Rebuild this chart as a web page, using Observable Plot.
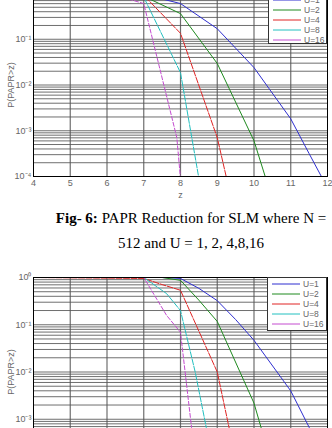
<!DOCTYPE html>
<html><head><meta charset="utf-8">
<script src="https://cdn.jsdelivr.net/npm/d3@7"></script>
<script src="https://cdn.jsdelivr.net/npm/@observablehq/plot@0.6"></script>
<style>
html,body{margin:0;padding:0;background:#fff;}
#page{position:relative;width:332px;height:428px;overflow:hidden;background:#fff;}
.chart{position:absolute;left:0;}
.legend{position:absolute;background:#fff;border:1px solid #333;box-sizing:border-box;font:8.5px "Liberation Sans",Arial,sans-serif;color:#666;}
.legend .row{position:absolute;left:0;height:10px;width:100%;}
.legend svg{position:absolute;left:4px;top:0;}
.legend span{position:absolute;left:35px;top:0;line-height:10px;}
.caption{position:absolute;left:50px;width:282px;top:205.5px;text-align:center;font:15px "Liberation Serif","Times New Roman",serif;line-height:25px;color:#000;white-space:nowrap;}
</style></head><body><div id="page"></div>
<script>
const series = ["U=1", "U=2", "U=4", "U=8", "U=16"];
const colors = ["#2f2fd0", "#1f8a1f", "#e02424", "#22c0c0", "#c44cd0"];
const dashes = [null, null, "6,1.5", "6,1.5", "4,2"];
const xTicks = [4, 5, 6, 7, 8, 9, 10, 11, 12];
const yTicks = [1, 0.1, 0.01, 0.001, 0.0001];
const yTickLabels = ["10⁰", "10⁻¹", "10⁻²", "10⁻³", "10⁻⁴"];
const captionBold = "Fig- 6:";
const captionLine1 = " PAPR Reduction for SLM where N =";
const captionLine2 = "512 and U = 1, 2, 4,8,16";

// Fig. 6 (N = 512): z and log10 P(PAPR>z)
const f6_U1_z = [4, 6.5, 7, 7.5, 8, 9, 10, 11, 11.5, 12];
const f6_U1_logP = [0, 0, -0.04, -0.12, -0.22, -0.77, -1.62, -2.74, -3.5, -4.25];
const f6_U2_z = [4, 6.5, 7, 8, 9, 10, 10.5];
const f6_U2_logP = [0, 0, -0.06, -0.44, -1.53, -3.22, -4.5];
const f6_U4_z = [4, 6.5, 7, 8, 9, 9.5];
const f6_U4_logP = [0, 0, -0.04, -0.87, -3.15, -4.9];
const f6_U8_z = [4, 6.5, 7, 8, 9];
const f6_U8_logP = [0, 0, -0.08, -1.73, -6.35];
const f6_U16_z = [4, 6, 6.5, 7, 7.9, 8, 8.2];
const f6_U16_logP = [0, 0, -0.1, -0.22, -3.15, -4.05, -5.8];

// Second figure (cropped)
const f7_U1_z = [4, 7.5, 8, 8.5, 9, 9.5, 10, 11, 11.5, 12];
const f7_U1_logP = [0, 0, -0.02, -0.23, -0.49, -0.89, -1.33, -2.4, -3.17, -4.0];
const f7_U2_z = [4, 7.5, 8, 8.5, 9, 10, 10.5];
const f7_U2_logP = [0, 0, -0.06, -0.48, -0.93, -2.66, -4.0];
const f7_U4_z = [4, 7, 7.5, 8, 9, 9.5];
const f7_U4_logP = [0, -0.02, -0.15, -0.27, -2.0, -3.83];
const f7_U8_z = [4, 7, 7.62, 8, 8.4, 8.7, 9];
const f7_U8_logP = [0, 0, -0.34, -0.7, -2.0, -3.17, -4.35];
const f7_U16_z = [4, 7, 7.62, 8, 8.3, 8.45];
const f7_U16_logP = [0, 0, -0.8, -1.16, -3.17, -4.2];

function rowsOf(list) {
  const rows = [];
  list.forEach(([zs, ls], i) => zs.forEach((z, j) => rows.push({z, p: Math.pow(10, ls[j]), U: series[i]})));
  return rows;
}
const rows6 = rowsOf([[f6_U1_z, f6_U1_logP], [f6_U2_z, f6_U2_logP], [f6_U4_z, f6_U4_logP], [f6_U8_z, f6_U8_logP], [f6_U16_z, f6_U16_logP]]);
const rows7 = rowsOf([[f7_U1_z, f7_U1_logP], [f7_U2_z, f7_U2_logP], [f7_U4_z, f7_U4_logP], [f7_U8_z, f7_U8_logP], [f7_U16_z, f7_U16_logP]]);

const yGrid = [];
for (let e = -4; e < 0; e++) for (let m = 1; m <= 9; m++) yGrid.push(m * Math.pow(10, e));

function makeChart(rows, plotHeight) {
  return Plot.plot({
    width: 332, height: 20 + plotHeight + 30,
    marginLeft: 33, marginRight: 5, marginTop: 20, marginBottom: 30,
    style: {fontFamily: "'Liberation Sans', Arial, sans-serif", fontSize: "9px", color: "#666", background: "transparent", overflow: "visible"},
    x: {domain: [4, 12], ticks: xTicks, tickSize: 0, tickPadding: 3, label: "z", labelAnchor: "center", labelArrow: "none", labelOffset: 21},
    y: {type: "log", domain: [1e-4, 1], ticks: yTicks, tickFormat: d => yTickLabels[yTicks.indexOf(d)], tickSize: 0, tickPadding: 2, label: "P(PAPR>z)", labelAnchor: "center", labelArrow: "none", labelOffset: 26},
    marks: [
      Plot.ruleY(yGrid, {stroke: "#222", strokeOpacity: 0.65}),
      Plot.ruleX(xTicks.slice(1, -1), {stroke: "#555", strokeOpacity: 0.85, strokeWidth: 1.2}),
      ...series.map((u, i) => Plot.line(rows.filter(r => r.U === u), {x: "z", y: "p", stroke: colors[i], strokeWidth: 1, strokeDasharray: dashes[i], clip: true})),
      Plot.frame({stroke: "#000"})
    ]
  });
}

function makeLegend(left, top, width, height) {
  const box = document.createElement("div");
  box.className = "legend";
  Object.assign(box.style, {left: left + "px", top: top + "px", width: width + "px", height: height + "px"});
  series.forEach((u, i) => {
    const row = document.createElement("div");
    row.className = "row";
    row.style.top = (1 + i * 10) + "px";
    const svg = d3.create("svg").attr("width", 28).attr("height", 10);
    svg.append("line").attr("x1", 0).attr("x2", 28).attr("y1", 5).attr("y2", 5)
      .attr("stroke", colors[i]).attr("stroke-width", 1);
    row.appendChild(svg.node());
    const t = document.createElement("span");
    t.textContent = u;
    row.appendChild(t);
    box.appendChild(row);
  });
  return box;
}

const page = document.getElementById("page");
const c1 = makeChart(rows6, 183);
c1.classList.add("chart"); c1.style.top = "-27px";
page.appendChild(c1);
page.appendChild(makeLegend(268, -7, 59, 51));

const cap = document.createElement("div");
cap.className = "caption";
const b = document.createElement("b"); b.textContent = captionBold;
cap.appendChild(b);
cap.appendChild(document.createTextNode(captionLine1));
cap.appendChild(document.createElement("br"));
cap.appendChild(document.createTextNode(captionLine2));
page.appendChild(cap);

const c2 = makeChart(rows7, 189);
c2.classList.add("chart"); c2.style.top = "257px";
page.appendChild(c2);
page.appendChild(makeLegend(267, 277, 60, 54));
</script>
</body></html>
